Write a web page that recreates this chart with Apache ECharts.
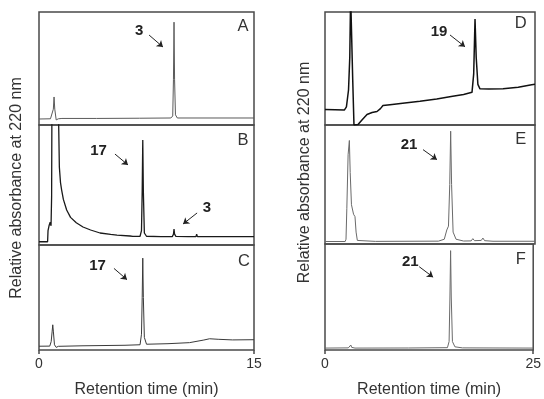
<!DOCTYPE html>
<html><head><meta charset="utf-8">
<script src="https://cdn.jsdelivr.net/npm/echarts@6/dist/echarts.min.js"></script>
<style>html,body{margin:0;padding:0;background:#fff}#c{width:544px;height:399px}</style>
</head><body><div id="c"></div>
<script>
// ---- data (retention time in min, relative absorbance in % of panel span) ----
const panelNames = ['A','B','C','D','E','F'];
const xRangeLeft = [0, 15];
const xRangeRight = [0, 25];
const xTitle = 'Retention time (min)';
const yTitle = 'Relative absorbance at 220 nm';

const traceA = [[0,5.3],[0.8,5.5],[0.92,6.5],[1.0,14],[1.05,24.8],[1.1,14],[1.2,4.5],[1.35,5.5],[1.6,5.8],[4,5.8],[7,6.0],[9.2,6.2],[9.33,8],[9.38,40],[9.42,91],[9.46,40],[9.52,9],[9.65,6.2],[12,6.2],[15,6.2]];
const traceB = [[0,2.7],[0.6,2.7],[0.63,12],[0.7,16],[0.78,19],[0.84,16],[0.88,40],[0.9,110],[1.36,110],[1.42,65],[1.5,52],[1.58,45.8],[1.7,38],[1.93,29.2],[2.2,23],[2.6,18.5],[3.07,15],[3.6,12.5],[4.26,10],[5.0,8.8],[5.44,8.3],[6.35,7.5],[6.45,8.8],[6.55,7.2],[7.05,7.3],[7.15,12],[7.2,45],[7.24,87.5],[7.28,45],[7.35,10],[7.5,7.3],[8.5,7.0],[9.3,7.0],[9.38,9],[9.42,13.3],[9.46,9],[9.55,7.2],[10.4,7.0],[10.95,7.0],[11.0,9],[11.05,7.0],[11.6,7.0],[12.5,7.0],[15,7.0]];
const traceC = [[0,3.6],[0.75,3.7],[0.85,8],[0.92,18],[0.96,24],[1.0,18],[1.08,5],[1.2,2.5],[1.35,3.5],[3,4.0],[6,4.5],[7.05,5],[7.15,15],[7.2,50],[7.24,87.5],[7.28,50],[7.35,12],[7.5,5.5],[9,6],[10.5,7],[11.5,9.5],[11.9,10.7],[12.5,10.2],[13.5,9.6],[15,9.8]];
const traceD = [[0,13.7],[1.2,13.5],[2.3,13.2],[2.55,16],[2.7,25],[2.8,31],[2.95,60],[3.05,115],[3.15,115],[3.3,40],[3.45,0],[3.93,0.4],[4.4,4.5],[5.0,9.3],[5.6,11],[6.19,11.9],[6.6,14.5],[6.9,17.2],[7.74,18],[9.5,19.5],[11.3,21],[13.3,23],[15.2,25.4],[16.5,27],[17.5,28.9],[17.7,45],[17.86,93.8],[18.0,60],[18.2,36],[18.45,32],[19.5,31.8],[21.2,32],[23,33.5],[24.6,35.7],[25,36]];
const traceE = [[0,2.1],[2.4,2.1],[2.5,4],[2.6,30],[2.75,75],[2.9,87],[3.0,60],[3.15,33],[3.4,25],[3.57,23],[3.7,10],[3.85,3],[4.0,2.0],[6,2.2],[10,2.3],[13.5,2.4],[14.2,4],[14.5,11.8],[14.7,15],[14.85,50],[14.96,94.8],[15.07,50],[15.25,10],[15.6,4],[16.5,2.5],[17.4,2.6],[17.6,4.5],[17.8,2.8],[18.6,3],[18.8,5],[19.0,2.8],[20,2.3],[25,2.3]];
const traceF = [[0,1.8],[2.8,2.0],[3.0,3.5],[3.1,4.7],[3.2,2.5],[3.35,1.0],[3.6,1.8],[10,1.9],[14.7,2.2],[14.9,8],[15.0,50],[15.08,93.75],[15.16,50],[15.3,8],[15.6,3],[16.5,2.0],[25,1.8]];

// compound labels: [panel index, text, label pos, arrow start, arrow end]
const compoundLabels = [
  [0,'3',[6.98,83.2],[7.68,79.6],[8.65,69]],
  [1,'17',[4.15,78.3],[5.30,75.8],[6.21,66.7]],
  [1,'3',[11.72,30.8],[11.03,26.7],[10.05,17.5]],
  [2,'17',[4.08,80.4],[5.23,77.7],[6.14,67]],
  [3,'19',[13.57,82.4],[14.88,79.7],[16.67,69.2]],
  [4,'21',[10.0,83],[11.67,79.3],[13.33,70.9]],
  [5,'21',[10.24,83.3],[11.31,78.6],[12.98,68.75]]
];
const panelLetterPos = [[14.24,87.6],[14.24,87.5],[14.3,84.8],[23.3,90.3],[23.3,87.8],[23.5,85.7]];

// ---- layout ----
const traces = [traceA, traceB, traceC, traceD, traceE, traceF];
const colors = ['#5a5a5a','#1a1a1a','#3a3a3a','#111','#6a6a6a','#6a6a6a'];
const widths = [1, 1.3, 1, 1.5, 1, 1];
const grids = [
  {left:39, width:215, top:12, height:113},
  {left:39, width:215, top:125, height:120},
  {left:39, width:215, top:245, height:112},
  {left:325, width:210, top:12, height:113},
  {left:325, width:210, top:125, height:119},
  {left:325, width:210, top:244, height:112}
];
const FONT = 'Liberation Sans, Arial, sans-serif';

const option = {
  animation:false,
  backgroundColor:'#fff',
  textStyle:{fontFamily:FONT},
  grid: grids.map(g=>Object.assign({show:true, borderColor:'#4a4a4a', borderWidth:1.5, backgroundColor:'transparent'}, g)),
  xAxis: grids.map((g,i)=>{
    const r = i<3 ? xRangeLeft : xRangeRight;
    const bottom = (i===2 || i===5);
    return {
      type:'value', gridIndex:i, min:r[0], max:r[1], interval:r[1]-r[0],
      axisLine:{show:false}, splitLine:{show:false},
      axisTick:{show:bottom, length:4, lineStyle:{color:'#4a4a4a', width:1.5}},
      axisLabel:{show:bottom, fontSize:14, color:'#333', margin:7, fontFamily:FONT},
      name: bottom ? xTitle : '', nameLocation:'middle', nameGap:32,
      nameTextStyle:{fontSize:16, color:'#333', fontFamily:FONT}
    };
  }),
  yAxis: grids.map((g,i)=>({type:'value', gridIndex:i, min:0, max:100, show:false})),
  graphic:[
    {type:'text', x:17, y:188, rotation:Math.PI/2, style:{text:yTitle, fontSize:16, fontFamily:FONT, fill:'#333', textAlign:'center', textVerticalAlign:'middle'}},
    {type:'text', x:304.5, y:172.5, rotation:Math.PI/2, style:{text:yTitle, fontSize:16, fontFamily:FONT, fill:'#333', textAlign:'center', textVerticalAlign:'middle'}}
  ],
  series: traces.map((d,i)=>{
    const labs = compoundLabels.filter(c=>c[0]===i);
    return {
      type:'line', xAxisIndex:i, yAxisIndex:i, data:d, showSymbol:false, symbol:'none',
      clip:true, lineStyle:{color:colors[i], width:widths[i]}, silent:true,
      markPoint:{
        silent:true, symbol:'circle', symbolSize:0,
        data: labs.map(c=>({name:c[1], coord:c[2], label:{show:true, position:'inside', formatter:'{b}', fontSize:15, fontWeight:'bold', color:'#222', fontFamily:FONT}}))
          .concat([{name:panelNames[i], coord:panelLetterPos[i], label:{show:true, position:'inside', formatter:'{b}', fontSize:16.5, color:'#333', fontFamily:FONT}}])
      },
      markLine:{
        silent:true, symbol:['none','arrow'], symbolSize:6,
        lineStyle:{color:'#222', width:1, type:'solid'},
        label:{show:false},
        data: labs.map(c=>[{coord:c[3]},{coord:c[4]}])
      }
    };
  })
};
const chart = echarts.init(document.getElementById('c'), null, {renderer:'canvas'});
chart.setOption(option);
</script></body></html>
